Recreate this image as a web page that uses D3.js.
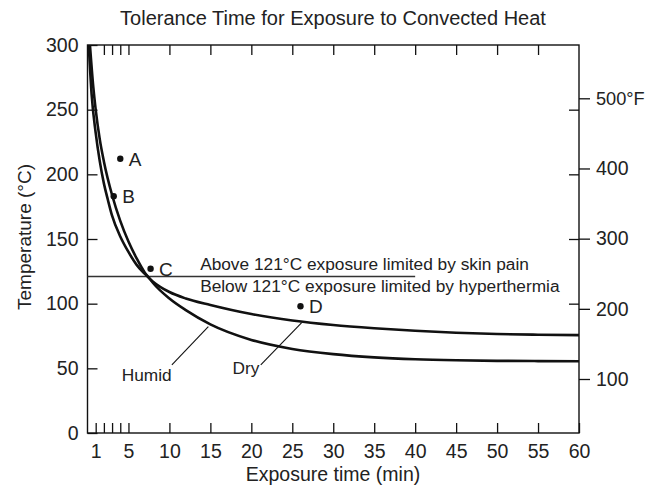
<!DOCTYPE html>
<html>
<head>
<meta charset="utf-8">
<script src="https://cdn.jsdelivr.net/npm/d3@7"></script>
<style>
  html, body { margin: 0; padding: 0; background: #fff; }
  svg text { font-family: "Liberation Sans", Arial, Helvetica, sans-serif; fill: #222; }
</style>
</head>
<body>
<svg id="chart" width="646" height="486"></svg>
<script>
// ---- data ----
const title = "Tolerance Time for Exposure to Convected Heat";
const xTitle = "Exposure time (min)";
const yTitle = "Temperature (\u00B0C)";

const bottomTicks = [1, 2, 3, 4, 5, 10, 15, 20, 25, 30, 35, 40, 45, 50, 55, 60];
const bottomLabels = [1, 5, 10, 15, 20, 25, 30, 35, 40, 45, 50, 55, 60];
const topTicks = [2, 3, 4, 5, 10, 15, 20, 25, 30, 35, 40, 45, 50, 55];
const leftTicks = [0, 50, 100, 150, 200, 250, 300];
const rightInnerTicks = [100, 150, 200, 250];
const fahrenheitTicks = [100, 200, 300, 400, 500];

// Dry curve (time min, temp C)
const dryTime = [0.15, 0.5, 1, 1.5, 2, 2.5, 3, 4, 5, 6, 7, 8, 10, 12, 15, 20, 25, 30, 35, 40, 45, 50, 55, 60];
const dryTemp = [300, 262, 232, 210, 193, 180, 168, 152, 140, 130, 123, 117, 109, 104, 99, 92, 87, 83.5, 81, 79, 77.5, 76.5, 76, 75.7];
// Humid curve
const humidTime = [0.3, 0.7, 1, 1.5, 2, 3, 4, 5, 6, 7, 7.5, 8, 10, 12, 15, 20, 25, 30, 35, 40, 45, 50, 55, 60];
const humidTemp = [300, 268, 250, 227, 210, 184, 164, 148, 135, 124, 120, 116, 104, 95, 84, 72, 65, 61, 58.5, 57, 56.2, 55.8, 55.6, 55.5];

// labelled exposure points
const pointNames = ["A", "B", "C", "D"];
const pointTime = [4.0, 3.2, 7.7, 26];
const pointTemp = [212, 183, 127, 98];

// 121 C threshold line
const thresholdTemp = 121;
const thresholdEnd = 40;
const thresholdTexts = ["Above 121\u00B0C exposure limited by skin pain", "Below 121\u00B0C exposure limited by hyperthermia"];

// curve labels and leaders
const curveLabels = ["Humid", "Dry"];
const curveLabelPos = [[4.18, 40.2], [17.7, 45.6]];
const leaders = [[[10.3, 52.6], [14.75, 82.2]], [[21.15, 52.6], [26.15, 85.3]]];

// ---- layout ----
const svg = d3.select("#chart");
const L = 87.5, R = 579, T = 45, B = 433;
const x = d3.scaleLinear().domain([0, 60]).range([L, R]);
const y = d3.scaleLinear().domain([0, 300]).range([B, T]);
const yF = d3.scaleLinear().domain([100, 500]).range([379, 98.3]);

const ink = "#111";
const bigFont = 19.5;
const smallFont = 17.3;

svg.append("rect").attr("width", 646).attr("height", 486).attr("fill", "#fff");

svg.append("defs").append("clipPath").attr("id", "clip")
  .append("rect").attr("x", L).attr("y", T).attr("width", R - L).attr("height", B - T);

function styleAxis(g) {
  g.select(".domain").remove();
  g.selectAll("line").attr("stroke", ink).attr("stroke-width", 1.3);
  g.selectAll("text").attr("font-size", bigFont).attr("fill", "#222")
    .attr("font-family", '"Liberation Sans", Arial, sans-serif');
}

// bottom axis
svg.append("g").attr("transform", `translate(0,${B})`)
  .call(d3.axisBottom(x).tickValues(bottomTicks).tickSize(-10).tickPadding(11)
    .tickFormat(d => bottomLabels.includes(d) ? d : ""))
  .call(styleAxis);
// top axis
svg.append("g").attr("transform", `translate(0,${T})`)
  .call(d3.axisTop(x).tickValues(topTicks).tickSize(-10).tickFormat(""))
  .call(styleAxis);
// left axis
svg.append("g").attr("transform", `translate(${L},0)`)
  .call(d3.axisLeft(y).tickValues(leftTicks).tickSize(-10).tickPadding(9))
  .call(styleAxis);
// right inner ticks
svg.append("g").attr("transform", `translate(${R},0)`)
  .call(d3.axisLeft(y).tickValues(rightInnerTicks).tickSize(10).tickFormat(""))
  .call(styleAxis);
// right Fahrenheit axis
const fAxis = svg.append("g").attr("transform", `translate(${R},0)`)
  .call(d3.axisRight(yF).tickValues(fahrenheitTicks).tickSize(11).tickPadding(6)
    .tickFormat(d => d === 500 ? d + "\u00B0F" : d))
  .call(styleAxis);
fAxis.selectAll(".tick text").filter(d => d === 500).attr("font-size", 18.2);

// frame
svg.append("rect").attr("x", L).attr("y", T).attr("width", R - L).attr("height", B - T)
  .attr("fill", "none").attr("stroke", ink).attr("stroke-width", 1.4);

// threshold line
svg.append("line")
  .attr("x1", x(0)).attr("x2", x(thresholdEnd))
  .attr("y1", y(thresholdTemp)).attr("y2", y(thresholdTemp))
  .attr("stroke", "#333").attr("stroke-width", 1.3);
svg.append("text").attr("x", x(13.75)).attr("y", y(thresholdTemp) - 7)
  .attr("font-size", smallFont).text(thresholdTexts[0]);
svg.append("text").attr("x", x(13.75)).attr("y", y(thresholdTemp) + 15.5)
  .attr("font-size", smallFont).text(thresholdTexts[1]);

// curves
const line = d3.line().x(d => x(d[0])).y(d => y(d[1])).curve(d3.curveMonotoneX);
const plot = svg.append("g").attr("clip-path", "url(#clip)");
plot.append("path").datum(dryTime.map((t, i) => [t, dryTemp[i]]))
  .attr("d", line).attr("fill", "none").attr("stroke", ink).attr("stroke-width", 2.6);
plot.append("path").datum(humidTime.map((t, i) => [t, humidTemp[i]]))
  .attr("d", line).attr("fill", "none").attr("stroke", ink).attr("stroke-width", 2.6);

// leaders
leaders.forEach(l => {
  svg.append("line").attr("x1", x(l[0][0])).attr("y1", y(l[0][1]))
    .attr("x2", x(l[1][0])).attr("y2", y(l[1][1]))
    .attr("stroke", ink).attr("stroke-width", 1.1);
});
curveLabels.forEach((name, i) => {
  svg.append("text").attr("x", x(curveLabelPos[i][0])).attr("y", y(curveLabelPos[i][1]))
    .attr("font-size", smallFont).text(name);
});

// points
pointNames.forEach((name, i) => {
  svg.append("circle").attr("cx", x(pointTime[i])).attr("cy", y(pointTemp[i]))
    .attr("r", 3.2).attr("fill", ink);
  svg.append("text").attr("x", x(pointTime[i]) + 8.5).attr("y", y(pointTemp[i]) + 7)
    .attr("font-size", 19).text(name);
});

// titles
svg.append("text").attr("x", 333).attr("y", 25).attr("text-anchor", "middle")
  .attr("font-size", 20).text(title);
svg.append("text").attr("x", 333).attr("y", 481).attr("text-anchor", "middle")
  .attr("font-size", bigFont).text(xTitle);
svg.append("text").attr("transform", "translate(31,237) rotate(-90)").attr("text-anchor", "middle")
  .attr("font-size", 19).text(yTitle);
</script>
</body>
</html>
